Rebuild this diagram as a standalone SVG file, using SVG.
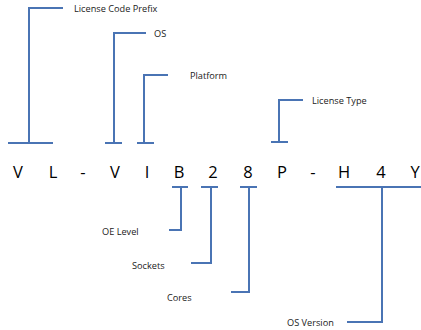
<svg xmlns="http://www.w3.org/2000/svg" width="421" height="330" viewBox="0 0 421 330">
<style>
.ln{fill:none;stroke:#4a74b4;stroke-width:2;stroke-linecap:butt}
.ch{font-family:"Open Sans","Liberation Sans",sans-serif;font-size:16.5px;fill:#000;text-anchor:middle}
.lb{font-family:"Open Sans","Liberation Sans",sans-serif;font-size:9.2px;fill:#1a1a1a}
</style>
<rect width="421" height="330" fill="#fff"/>
<g id="code">
<text class="ch" x="18" y="178">V</text>
<text class="ch" x="53" y="178">L</text>
<text class="ch" x="83" y="178">-</text>
<text class="ch" x="115" y="178">V</text>
<text class="ch" x="147" y="178">I</text>
<text class="ch" x="179" y="178">B</text>
<text class="ch" x="213" y="178">2</text>
<text class="ch" x="248" y="178">8</text>
<text class="ch" x="282" y="178">P</text>
<text class="ch" x="313" y="178">-</text>
<text class="ch" x="344" y="178">H</text>
<text class="ch" x="381" y="178">4</text>
<text class="ch" x="415" y="178">Y</text>
</g>
<g id="label-prefix"><text class="lb" x="74" y="11.5">License Code Prefix</text></g>
<g id="label-os"><text class="lb" x="154" y="36.5">OS</text></g>
<g id="label-platform"><text class="lb" x="190" y="78.5">Platform</text></g>
<g id="label-licensetype"><text class="lb" x="312" y="103.5">License Type</text></g>
<g id="label-oelevel"><text class="lb" x="102" y="234.5">OE Level</text></g>
<g id="label-sockets"><text class="lb" x="132" y="268.5">Sockets</text></g>
<g id="label-cores"><text class="lb" x="167" y="300.5">Cores</text></g>
<g id="label-osversion"><text class="lb" x="287" y="325.5">OS Version</text></g>
<g id="connectors">
<path class="ln" d="M8 143H53M29 143V8H63"/>
<path class="ln" d="M105 143H122M114 143V33H146"/>
<path class="ln" d="M137 143H154M144 143V75H168"/>
<path class="ln" d="M271 142H288M279 142V100H303"/>
<path class="ln" d="M172 187H188M181 187V230H169"/>
<path class="ln" d="M201 187H218M211 187V263H191"/>
<path class="ln" d="M240 187H257M249 187V292H231"/>
<path class="ln" d="M336 187H421M382 187V322H347"/>
</g>
</svg>
